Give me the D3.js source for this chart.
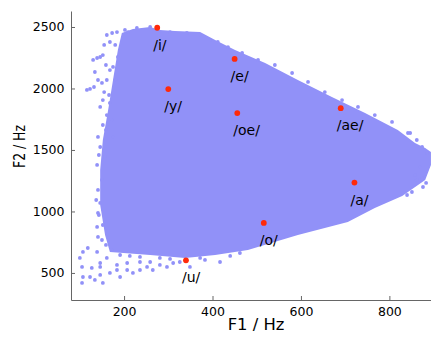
<!DOCTYPE html>
<html>
<head>
<meta charset="utf-8">
<script src="https://cdn.jsdelivr.net/npm/d3@7"></script>
<style>
  body { margin: 0; background: #fff; }
  svg { display: block; }
  .axis text { font-family: "DejaVu Sans", sans-serif; font-size: 12.5px; fill: #000; }
  .axis path, .axis line { stroke: #666; }
</style>
</head>
<body>
<div id="chart"></div>
<script>
// vowel centroids (F1, F2 in Hz)
const vowels = ['/i/', '/e/', '/y/', '/oe/', '/ae/', '/a/', '/o/', '/u/'];
const vowelF1 = [275, 450, 300, 456, 690, 721, 516, 340];
const vowelF2 = [2494, 2240, 1995, 1800, 1840, 1235, 907, 603];

// outline of the dense token cloud
const cloudF1 = [195, 220, 259, 281, 315, 372, 406, 451, 519, 593, 670, 745, 819, 858, 881, 894,
                 894, 881, 829, 767, 706, 593, 480, 406, 338, 259, 168, 157, 146, 146, 152, 164, 175, 186];
const cloudF2 = [2451, 2484, 2500, 2475, 2467, 2459, 2394, 2313, 2207, 2069, 1931, 1801, 1663, 1557, 1516, 1484,
                 1378, 1256, 1126, 1028, 915, 809, 687, 646, 622, 646, 671, 809, 1053, 1337, 1581, 1825, 2069, 2313];

// loose tokens around the edge of the cloud
const looseF1 = [116, 123, 132, 134, 130, 139, 146, 152, 161, 173, 184, 202, 209, 141, 150, 161, 146, 152, 168, 161,
                 152, 164, 141, 175, 146, 157, 180, 175, 186, 139,
                 100, 107, 118, 105, 107, 105, 127, 134, 146, 152, 168, 184, 191, 207, 220, 236, 252, 265, 281, 297,
                 311, 146, 161, 139, 141, 139, 141, 146, 141, 349, 326, 236, 207, 123, 146, 184, 259,
                 883, 874, 858, 417, 847, 862, 874, 885, 869, 862, 876, 851, 840,
                 412, 435, 467, 503, 541, 580, 616, 654, 693, 729, 767, 806, 842,
                 229, 259, 304, 342, 372, 394,
                 155, 168, 180, 159, 168, 155, 166, 173, 159, 143, 150, 137, 143, 152, 150, 159, 173,
                 191, 213, 236, 281, 304, 372, 383, 440, 462];
const looseF2 = [1988, 1996, 2012, 2134, 2232, 2248, 2256, 2272, 2435, 2451, 2459, 2476, 2459, 2069, 2045, 2069, 1850, 1906, 1882, 1784,
                 1703, 1687, 1606, 1606, 1524, 1443, 2069, 2175, 2256, 1378,
                 622, 671, 703, 549, 467, 419, 541, 443, 484, 419, 500, 524, 467, 524, 500, 524, 549, 524, 565, 549,
                 581, 581, 622, 671, 793, 874, 988, 1069, 1175, 549, 589, 589, 581, 467, 549, 565, 589,
                 1232, 1272, 1297, 589, 1638, 1581, 1524, 1476, 1362, 1256, 1199, 1158, 1134,
                 2378, 2337, 2289, 2232, 2191, 2126, 2053, 1971, 1906, 1850, 1784, 1728, 1638,
                 2492, 2500, 2459, 2451, 2435, 2394,
                 2354, 2378, 2354, 2191, 2150, 1971, 1947, 1744, 1663, 1459, 1256, 1093, 971, 890, 768, 728, 687,
                 646, 638, 630, 622, 614, 622, 606, 638, 662];

const xTicks = [200, 400, 600, 800];
const yTicks = [500, 1000, 1500, 2000, 2500];

const width = 431, height = 340;
const cloudColor = '#9191f8';

const x = d3.scaleLinear().domain([80, 900]).range([71, 433.6]);
const y = d3.scaleLinear().domain([280, 2630]).range([300, 11]);

const svg = d3.select('#chart').append('svg')
  .attr('width', width)
  .attr('height', height);

// cloud body
svg.append('path')
  .datum(d3.zip(cloudF1, cloudF2))
  .attr('d', d3.line().x(d => x(d[0])).y(d => y(d[1])).curve(d3.curveLinearClosed))
  .attr('fill', cloudColor);

svg.append('g').selectAll('circle')
  .data(d3.zip(looseF1, looseF2))
  .enter().append('circle')
    .attr('cx', d => x(d[0]))
    .attr('cy', d => y(d[1]))
    .attr('r', 1.9)
    .attr('fill', cloudColor);

// axes, ticks point inward
svg.append('g')
  .attr('class', 'axis')
  .attr('transform', 'translate(0,300)')
  .call(d3.axisBottom(x).tickValues(xTicks).tickFormat(d3.format('d'))
    .tickSizeInner(-4).tickSizeOuter(0).tickPadding(7));

svg.append('g')
  .attr('class', 'axis')
  .attr('transform', 'translate(71,0)')
  .call(d3.axisLeft(y).tickValues(yTicks).tickFormat(d3.format('d'))
    .tickSizeInner(-4).tickSizeOuter(0).tickPadding(6.5));

svg.append('text')
  .attr('x', 256)
  .attr('y', 330)
  .attr('text-anchor', 'middle')
  .style('font-family', '"DejaVu Sans", sans-serif')
  .style('font-size', '16.4px')
  .text('F1 / Hz');

svg.append('text')
  .attr('transform', 'translate(25,146.5) rotate(-90) scale(1,1.33)')
  .attr('text-anchor', 'middle')
  .style('font-family', '"DejaVu Sans", sans-serif')
  .style('font-size', '12.4px')
  .text('F2 / Hz');

// centroids + labels
const vdata = vowels.map((v, i) => ({ v: v, f1: vowelF1[i], f2: vowelF2[i] }));

svg.append('g').selectAll('circle')
  .data(vdata)
  .enter().append('circle')
    .attr('cx', d => x(d.f1))
    .attr('cy', d => y(d.f2))
    .attr('r', 2.9)
    .attr('fill', '#ff2a0a');

svg.append('g').selectAll('text')
  .data(vdata)
  .enter().append('text')
    .attr('x', d => x(d.f1) - 4)
    .attr('y', d => y(d.f2) + 22)
    .style('font-family', '"DejaVu Sans", sans-serif')
    .style('font-size', '14px')
    .text(d => d.v);
</script>
</body>
</html>
